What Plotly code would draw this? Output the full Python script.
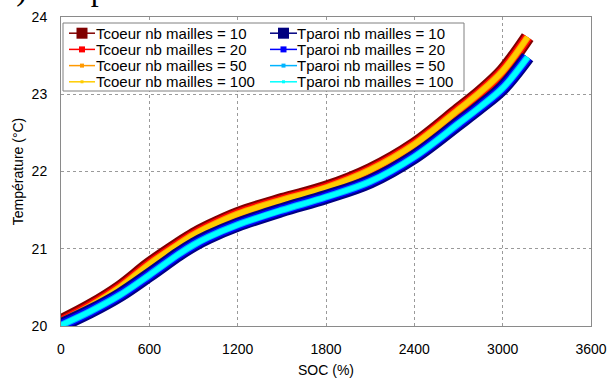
import plotly.graph_objects as go

# ---- data ----
soc = [0, 200, 400, 600, 800, 900, 1000, 1200, 1500, 1800, 2100, 2400, 2700, 2850, 3000, 3170]
t_coeur = [20.06, 20.26, 20.50, 20.80, 21.06, 21.18, 21.28, 21.45, 21.63, 21.79, 22.02, 22.35, 22.80, 23.03, 23.30, 23.74]
t_paroi = [20.01, 20.19, 20.40, 20.66, 20.93, 21.05, 21.15, 21.31, 21.50, 21.67, 21.87, 22.19, 22.62, 22.84, 23.08, 23.48]
nb_mailles = [10, 20, 50, 100]
x_ticks = [0, 600, 1200, 1800, 2400, 3000, 3600]
y_ticks = [20, 21, 22, 23, 24]

# ---- styles ----
coeur_colors = ["#800000", "#ff0000", "#ff9900", "#ffcc00"]
paroi_colors = ["#000080", "#0000ff", "#00b4ff", "#00ffff"]
band_widths = [14, 10, 7, 5]
legend_marker = [11, 6, 4, 3]

fig = go.Figure()
for group, vals, cols in (("Tcoeur", t_coeur, coeur_colors), ("Tparoi", t_paroi, paroi_colors)):
    for n, c, w in zip(nb_mailles, cols, band_widths):
        fig.add_trace(go.Scatter(x=soc, y=vals, mode="lines", name=f"{group} nb mailles = {n}",
                                 line=dict(color=c, width=w, shape="spline", smoothing=1.0),
                                 showlegend=False, hoverinfo="skip"))

# plot area in pixels
L, T, W, H = 61, 17, 530, 309
def px_x(p):
    return (p - L) / W
def px_y(p):
    return 1 - (p - T) / H

FONT = "Liberation Sans, Arial, sans-serif"
shapes = []
annotations = []
# legend box
shapes.append(dict(type="rect", xref="paper", yref="paper", x0=px_x(63), x1=px_x(464),
                   y0=px_y(91), y1=px_y(23), line=dict(color="#808080", width=1),
                   fillcolor="white", layer="above"))
row_y = [33.2, 49.4, 65.6, 81.8]
cols_x = [(69, 95, 95), (270, 297, 296)]
for ci, (group, colors) in enumerate((("Tcoeur", coeur_colors), ("Tparoi", paroi_colors))):
    lx0, lx1, tx = cols_x[ci]
    for ri, n in enumerate(nb_mailles):
        yy = row_y[ri]
        c = colors[ri]
        shapes.append(dict(type="line", xref="paper", yref="paper", x0=px_x(lx0), x1=px_x(lx1),
                           y0=px_y(yy), y1=px_y(yy), line=dict(color=c, width=1.5), layer="above"))
        s = legend_marker[ri]
        cx = (lx0 + lx1) / 2
        shapes.append(dict(type="rect", xref="paper", yref="paper", x0=px_x(cx - s / 2), x1=px_x(cx + s / 2),
                           y0=px_y(yy + s / 2), y1=px_y(yy - s / 2), line=dict(color=c, width=0),
                           fillcolor=c, layer="above"))
        annotations.append(dict(xref="paper", yref="paper", x=px_x(tx), y=px_y(yy), xanchor="left",
                                yanchor="middle", showarrow=False, text=f"{group} nb mailles = {n}",
                                borderpad=0,
                                font=dict(family=FONT, size=15, color="black")))

# cropped caption at the very top of the picture
annotations.append(dict(xref="paper", yref="paper", x=px_x(0), y=px_y(9), xanchor="left", yanchor="bottom",
                        showarrow=False, text="a) Températures",
                        font=dict(family="Liberation Serif, Times New Roman, serif", size=32, color="black")))

fig.update_layout(
    width=610, height=380,
    margin=dict(l=L, r=610 - L - W, t=T, b=380 - T - H, autoexpand=False),
    paper_bgcolor="white", plot_bgcolor="white",
    showlegend=False,
    font=dict(family=FONT, size=14, color="black"),
    shapes=shapes, annotations=annotations,
)
fig.update_xaxes(range=[0, 3600], tickvals=x_ticks, ticktext=[str(v) for v in x_ticks],
                 showgrid=True, gridcolor="#9a9a9a", griddash="dot", gridwidth=1,
                 showline=True, linecolor="#8a8a8a", linewidth=1, mirror=True, zeroline=False,
                 ticks="", ticklabelstandoff=10, automargin=False,
                 title=dict(text="SOC (%)", font=dict(size=14), standoff=9),
                 tickfont=dict(size=14))
fig.update_yaxes(range=[20, 24], tickvals=y_ticks, ticktext=[str(v) for v in y_ticks],
                 showgrid=True, gridcolor="#9a9a9a", griddash="dot", gridwidth=1,
                 showline=True, linecolor="#8a8a8a", linewidth=1, mirror=True, zeroline=False,
                 ticks="", ticklabelstandoff=10, automargin=False,
                 title=dict(text="Température (°C)", font=dict(size=14), standoff=4),
                 tickfont=dict(size=14))

fig.write_html("out.html", config={"displayModeBar": False},
               post_script="document.body.style.margin='0';document.body.style.padding='0';")
